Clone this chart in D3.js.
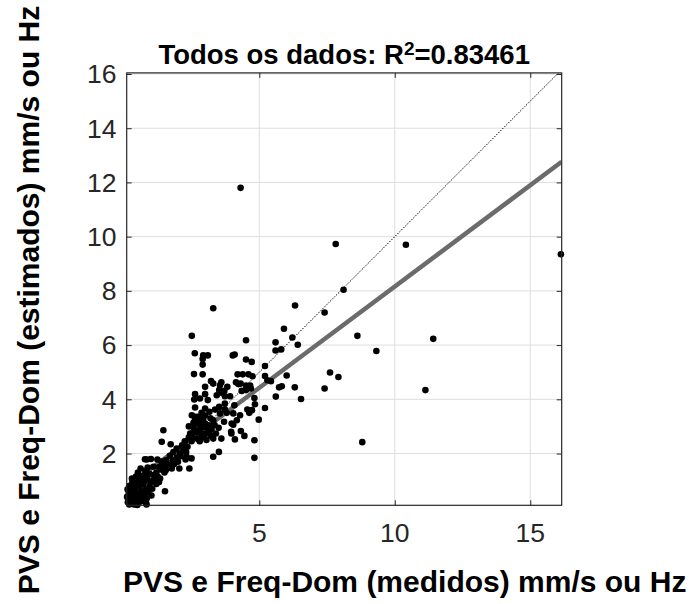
<!DOCTYPE html>
<html>
<head>
<meta charset="utf-8">
<script src="https://cdn.jsdelivr.net/npm/d3@7"></script>
<style>
  body { margin: 0; background: #ffffff; }
  text { font-family: "Liberation Sans", Arial, Helvetica, sans-serif; }
</style>
</head>
<body>
<svg id="chart" width="694" height="604"></svg>
<script>
// Measured values (x) and model estimates (y), mm/s or Hz
const measured = [
  4.31, 7.82, 8.11, 3.30, 6.32, 7.41, 5.91, 10.41, 16.13, 11.42, 11.13, 8.62, 9.32, 7.61, 7.92, 7.41, 6.54, 8.80,
  6.22, 5.60, 5.60, 5.81, 6.42, 5.21, 5.21, 5.30, 5.43, 6.01, 5.73, 5.83, 6.31, 5.61, 5.21, 4.98,
  2.51, 4.51, 2.62, 2.93, 3.10, 2.91, 4.02, 4.09, 4.51, 4.72, 2.91, 2.59, 2.91, 4.20, 4.39, 4.60, 4.75,
  3.22, 3.30, 3.60, 4.14, 4.31, 4.51, 4.66, 4.69, 3.00, 3.52, 3.71, 4.35, 4.51, 3.00, 3.61, 3.73, 3.92,
  2.81, 2.63, 2.60, 4.82, 4.84, 4.56, 4.63, 4.73, 4.08, 4.29, 3.73, 3.73, 3.52, 3.37, 3.00, 3.16, 2.87,
  2.73, 2.51, 2.57, 2.79, 2.93, 3.00, 3.18, 3.96, 3.98, 4.32, 4.45, 4.10, 4.82, 4.82, 3.51, 3.30, 3.97, 4.04,
  3.55, 3.82, 4.23, 2.63, 3.10, 3.43, 3.55, 3.80, 4.04, 4.17, 3.70,
  2.63, 2.80, 3.00, 3.20, 3.30, 2.40, 2.57, 2.75, 2.93, 3.08, 3.24, 3.50, 2.57, 2.80, 3.00, 3.20, 3.40,
  2.45, 2.70, 2.87, 3.05, 3.30, 3.60, 2.50, 2.80,
  2.68, 2.90, 3.12, 2.52, 2.72, 2.95, 3.15, 2.62, 2.85, 3.35,
  1.95, 1.83, 1.70, 2.07, 2.30, 2.32, 2.50, 1.46, 1.40, 1.73, 0.78, 1.40, 1.55, 1.77, 2.05, 2.42, 1.09, 1.40,
  1.55, 1.10, 1.34, 1.50, 0.62, 0.88, 0.80, 0.55, 1.52, 0.84,
  2.20, 2.28, 2.00, 1.80, 1.24, 1.00, 0.85, 0.80,
  1.20, 1.30, 1.45, 1.60, 1.70, 1.85, 1.95, 2.10, 2.15, 2.35, 2.40, 2.25,
  0.15, 0.22, 0.18, 0.25, 0.30, 0.35, 0.28, 0.40, 0.45, 0.50, 0.42, 0.55, 0.60, 0.65, 0.58, 0.70, 0.75, 0.80,
  0.72, 0.85, 0.90, 0.95, 1.00, 0.88, 1.05, 1.10, 0.20, 0.32, 0.48, 0.62, 0.38, 0.50, 0.20, 0.12, 0.14, 0.30,
  0.45, 0.68, 0.78, 1.15, 1.20, 0.95, 0.52, 0.35, 0.58, 0.82, 0.40, 0.26, 1.02, 1.25, 1.30
];
const estimated = [
  11.80, 9.73, 8.04, 7.36, 7.46, 7.20, 6.60, 9.70, 9.35, 6.23, 4.34, 6.34, 5.78, 4.99, 4.82, 4.40, 4.01, 2.42,
  6.28, 6.10, 5.80, 5.84, 6.01, 5.23, 4.86, 4.70, 4.67, 4.88, 4.44, 4.48, 4.44, 4.10, 3.68, 3.25,
  6.34, 6.18, 5.70, 5.62, 5.62, 5.49, 5.62, 5.65, 5.47, 5.38, 5.28, 4.93, 4.92, 4.92, 4.92, 4.92, 4.85,
  4.67, 4.58, 4.63, 4.63, 4.58, 4.51, 4.51, 4.40, 4.46, 4.34, 4.31, 4.31, 4.34, 4.19, 4.24, 4.11, 4.11,
  4.03, 3.70, 3.99, 4.05, 3.82, 3.62, 3.50, 3.60, 3.78, 3.41, 3.84, 3.62, 3.72, 3.62, 3.66, 3.54, 3.50,
  3.35, 3.41, 3.13, 3.19, 3.25, 3.11, 3.01, 2.80, 3.11, 2.83, 2.65, 2.52, 2.49, 1.84, 2.06, 1.88, 2.74, 3.06,
  4.52, 4.46, 4.56, 4.19, 3.97, 4.15, 3.48, 3.50, 3.48, 3.23, 3.17,
  3.35, 3.30, 3.40, 3.30, 3.23, 3.00, 2.98, 3.10, 2.98, 3.05, 2.90, 2.95, 2.80, 2.88, 2.74, 2.66, 2.74,
  2.74, 2.55, 2.59, 2.50, 2.55, 2.55, 2.45, 2.45,
  2.85, 2.70, 2.85, 2.62, 2.78, 2.62, 2.78, 3.20, 3.02, 3.05,
  2.18, 2.05, 1.92, 2.00, 2.05, 1.88, 1.82, 2.86, 2.43, 2.34, 1.79, 1.70, 1.75, 1.45, 1.45, 1.45, 1.51, 1.40,
  1.38, 1.20, 1.08, 1.30, 1.45, 1.48, 1.20, 1.00, 0.61, 0.12,
  2.15, 1.78, 1.70, 1.75, 1.78, 1.80, 1.78, 1.35,
  1.30, 1.50, 1.55, 1.60, 1.55, 1.60, 1.85, 1.90, 2.30, 2.25, 2.60, 2.45,
  0.20, 0.35, 0.55, 0.15, 0.28, 0.45, 0.62, 0.20, 0.33, 0.52, 0.70, 0.18, 0.40, 0.60, 0.78, 0.25, 0.48, 0.68,
  0.88, 0.35, 0.58, 0.80, 0.95, 1.05, 0.70, 1.00, 0.80, 0.95, 0.90, 1.02, 0.12, 0.10, 0.12, 0.40, 0.68, 1.08,
  1.15, 1.18, 1.00, 1.20, 0.88, 1.25, 1.30, 0.78, 0.55, 0.18, 0.58, 0.48, 0.45, 1.15, 0.95
];

const xTicks = [5, 10, 15];
const yTicks = [2, 4, 6, 8, 10, 12, 14, 16];
const xDomain = [0.107, 16.16];
const yDomain = [0.09, 16.04];

// Least-squares fit of estimated on measured, and its coefficient of determination
const fitSlope = 0.747;
const fitIntercept = 0.69;
const r2Label = "0.83461";

const titleText = "Todos os dados: R";
const xLabelText = "PVS e Freq-Dom (medidos) mm/s ou Hz";
const yLabelText = "PVS e Freq-Dom (estimados) mm/s ou Hz";

const plot = { left: 126.7, right: 561.7, top: 72.9, bottom: 505.3 };
const axisColor = "#262626";

const svg = d3.select("#chart");

const x = d3.scaleLinear().domain(xDomain).range([plot.left, plot.right]);
const y = d3.scaleLinear().domain(yDomain).range([plot.bottom, plot.top]);

// Grid
const grid = svg.append("g").attr("stroke", "#dedede").attr("stroke-width", 1);
grid.selectAll("line.gx").data(xTicks).join("line")
  .attr("x1", d => x(d)).attr("x2", d => x(d))
  .attr("y1", plot.top).attr("y2", plot.bottom);
grid.selectAll("line.gy").data(yTicks).join("line")
  .attr("x1", plot.left).attr("x2", plot.right)
  .attr("y1", d => y(d)).attr("y2", d => y(d));

// Clip for the reference lines
svg.append("clipPath").attr("id", "plotClip").append("rect")
  .attr("x", plot.left).attr("y", plot.top)
  .attr("width", plot.right - plot.left).attr("height", plot.bottom - plot.top);

const lines = svg.append("g").attr("clip-path", "url(#plotClip)");

// 1:1 line
const lo = Math.min(xDomain[0], yDomain[0]);
const hi = Math.max(xDomain[1], yDomain[1]);
lines.append("line")
  .attr("x1", x(lo)).attr("y1", y(lo))
  .attr("x2", x(hi)).attr("y2", y(hi))
  .attr("stroke", "#000").attr("stroke-width", 1)
  .attr("stroke-dasharray", "1.4,1.4");

// Points
svg.append("g").selectAll("circle")
  .data(d3.range(measured.length))
  .join("circle")
  .attr("cx", i => x(measured[i]))
  .attr("cy", i => y(estimated[i]))
  .attr("r", 3.3)
  .attr("fill", "#000");

// Regression line
lines.append("line")
  .attr("x1", x(xDomain[0])).attr("y1", y(fitIntercept + fitSlope * xDomain[0]))
  .attr("x2", x(xDomain[1])).attr("y2", y(fitIntercept + fitSlope * xDomain[1]))
  .attr("stroke", "#6b6b6b").attr("stroke-width", 4.5);

// Axes box with inward ticks
const tickLen = 5;
const axisG = svg.append("g");
const xAxisBottom = d3.axisBottom(x).tickValues(xTicks).tickSizeInner(-tickLen).tickSizeOuter(0).tickFormat("");
const xAxisTop = d3.axisTop(x).tickValues(xTicks).tickSizeInner(-tickLen).tickSizeOuter(0).tickFormat("");
const yAxisLeft = d3.axisLeft(y).tickValues(yTicks).tickSizeInner(-tickLen).tickSizeOuter(0).tickFormat("");
const yAxisRight = d3.axisRight(y).tickValues(yTicks).tickSizeInner(-tickLen).tickSizeOuter(0).tickFormat("");

axisG.append("g").attr("transform", `translate(0,${plot.bottom})`).call(xAxisBottom);
axisG.append("g").attr("transform", `translate(0,${plot.top})`).call(xAxisTop);
axisG.append("g").attr("transform", `translate(${plot.left},0)`).call(yAxisLeft);
axisG.append("g").attr("transform", `translate(${plot.right},0)`).call(yAxisRight);
axisG.selectAll("path.domain").remove();
axisG.selectAll(".tick line").attr("stroke", axisColor).attr("stroke-width", 1);

svg.append("rect")
  .attr("x", plot.left).attr("y", plot.top)
  .attr("width", plot.right - plot.left).attr("height", plot.bottom - plot.top)
  .attr("fill", "none").attr("stroke", axisColor).attr("stroke-width", 1.2);

// Tick labels
svg.append("g").selectAll("text").data(xTicks).join("text")
  .attr("x", d => x(d)).attr("y", 541.5)
  .attr("text-anchor", "middle")
  .attr("font-size", 26.5).attr("fill", axisColor)
  .text(d => d);

svg.append("g").selectAll("text").data(yTicks).join("text")
  .attr("x", 116.5).attr("y", d => y(d) + 9.4)
  .attr("text-anchor", "end")
  .attr("font-size", 26.5).attr("fill", axisColor)
  .text(d => d);

// Title with superscript
const title = svg.append("text")
  .attr("x", (plot.left + plot.right) / 2).attr("y", 64)
  .attr("text-anchor", "middle")
  .attr("font-size", 27.5).attr("font-weight", "bold").attr("fill", "#000");
title.append("tspan").text(titleText);
title.append("tspan").attr("font-size", 19).attr("dy", -9).text("2");
title.append("tspan").attr("dy", 9).text("=" + r2Label);

// Axis labels
svg.append("text")
  .attr("x", 123).attr("y", 592)
  .attr("font-size", 30).attr("font-weight", "bold").attr("fill", "#000")
  .text(xLabelText);

svg.append("text")
  .attr("transform", "translate(39,300) rotate(-90)")
  .attr("text-anchor", "middle")
  .attr("font-size", 30).attr("font-weight", "bold").attr("fill", "#000")
  .text(yLabelText);
</script>
</body>
</html>
